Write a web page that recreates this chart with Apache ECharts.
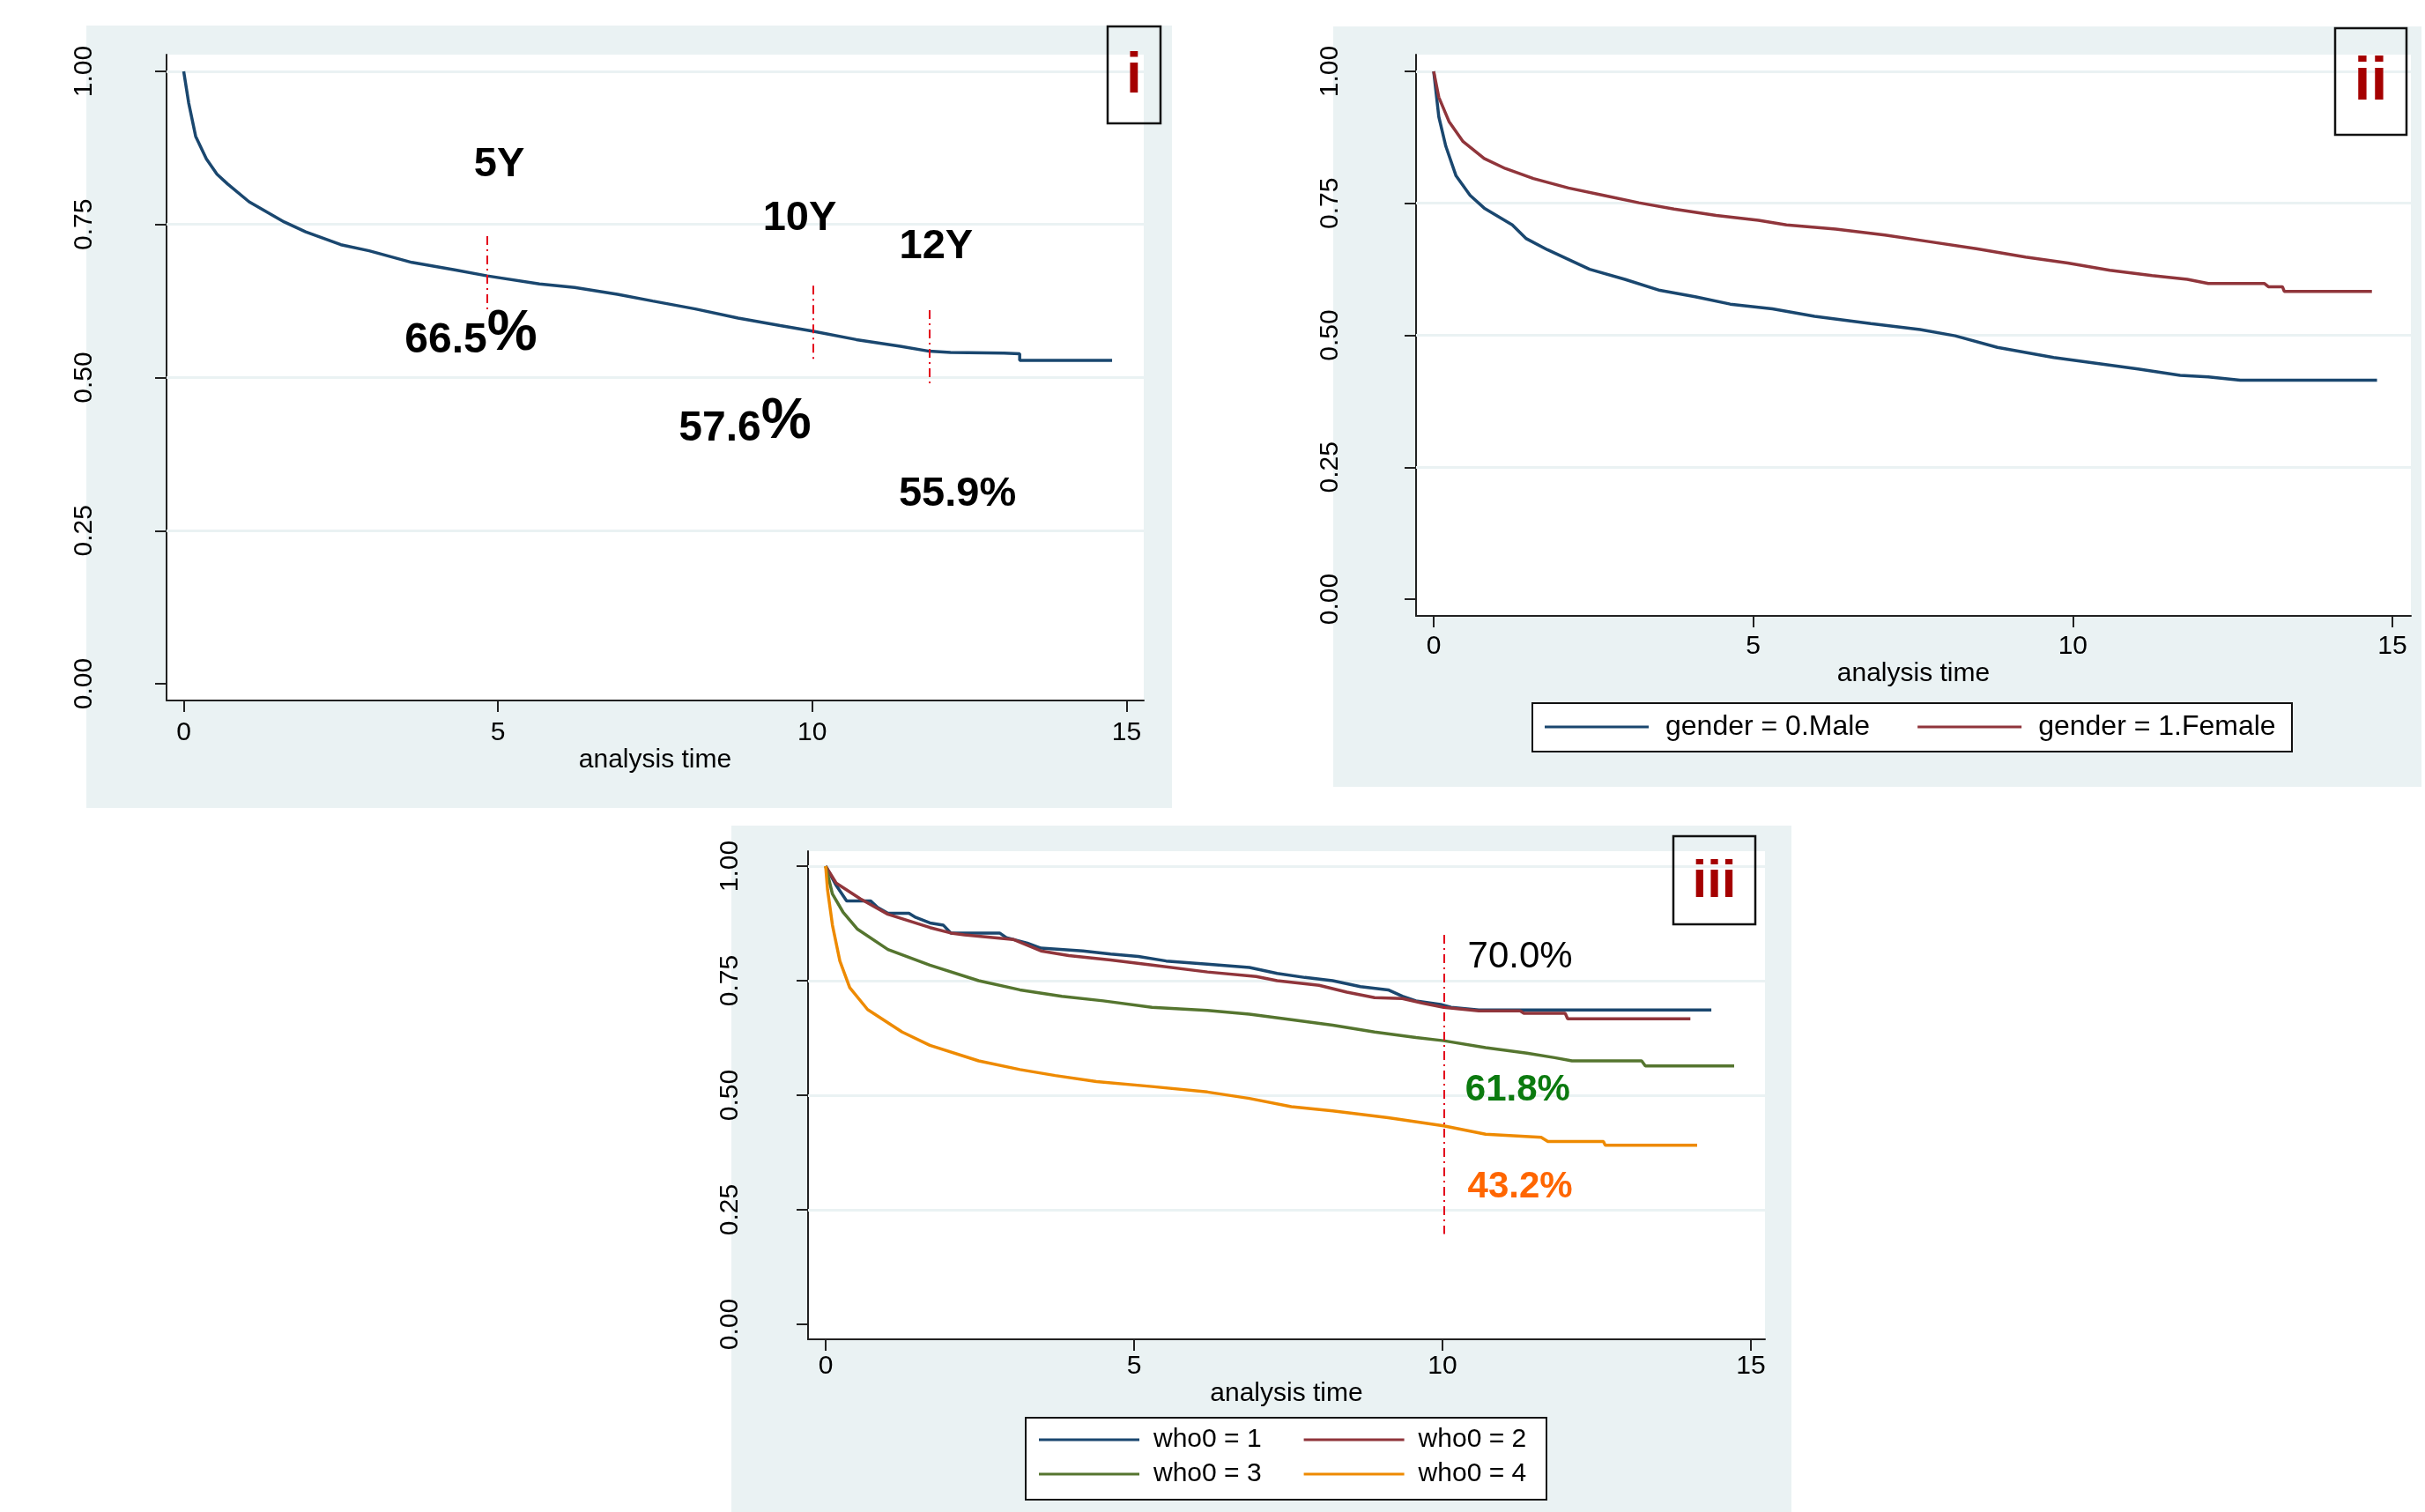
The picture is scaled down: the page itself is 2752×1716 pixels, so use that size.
<!DOCTYPE html>
<html><head><meta charset="utf-8">
<script src="https://cdn.jsdelivr.net/npm/echarts@6/dist/echarts.min.js"></script>
<style>html,body{margin:0;padding:0;background:#fff}#c{width:2752px;height:1716px}</style>
</head><body><div id="c"></div>
<script>
// ---------- data ----------
const xTicks = [0, 5, 10, 15];
const yTicks = [0, 0.25, 0.5, 0.75, 1];
const gridVals = [0.25, 0.5, 0.75, 1];
const xTitle = 'analysis time';

// panel i : overall survival
const tAll = [0,0.08,0.19,0.36,0.53,0.70,1.04,1.60,1.94,2.50,2.95,3.63,4.31,4.83,5.66,6.22,6.90,7.46,8.14,8.82,9.49,10.0,10.7,11.4,11.86,12.2,13.05,13.3,13.3,14.77];
const sAll = [1,0.948,0.894,0.857,0.832,0.816,0.787,0.754,0.738,0.717,0.707,0.688,0.676,0.666,0.653,0.647,0.636,0.625,0.612,0.597,0.585,0.576,0.562,0.551,0.543,0.541,0.540,0.539,0.528,0.528];
const markYearsI = [4.83, 10.02, 11.86];
const markTopI = [0.731, 0.650, 0.610];
const markBotI = [0.609, 0.526, 0.486];
const annoTextI = ['5Y', '10Y', '12Y', '66.5%', '57.6%', '55.9%'];
const annoTI = [5.02, 9.80, 11.97, 4.57, 8.93, 12.31];
const annoVI = [0.848, 0.760, 0.714, 0.571, 0.427, 0.309];

// panel ii : by gender
const namesII = ['gender = 0.Male', 'gender = 1.Female'];
const tMale = [0,0.08,0.19,0.35,0.57,0.79,1.23,1.45,1.78,2.44,2.99,3.54,4.09,4.64,5.30,5.96,6.84,7.61,8.16,8.82,9.70,10.36,11.02,11.68,12.12,12.62,14.76];
const sMale = [1,0.914,0.858,0.802,0.765,0.741,0.709,0.683,0.662,0.625,0.606,0.585,0.573,0.559,0.550,0.536,0.522,0.511,0.499,0.477,0.458,0.447,0.436,0.424,0.421,0.415,0.415];
const tFemale = [0,0.08,0.24,0.46,0.79,1.12,1.56,2.11,2.66,3.21,3.76,4.42,5.08,5.52,6.29,7.06,7.72,8.49,9.26,9.92,10.58,11.24,11.79,12.12,13.0,13.06,13.28,13.31,14.68];
const sFemale = [1,0.951,0.905,0.867,0.835,0.816,0.797,0.779,0.765,0.751,0.739,0.727,0.718,0.709,0.701,0.690,0.678,0.664,0.648,0.637,0.623,0.613,0.606,0.598,0.598,0.592,0.592,0.583,0.583];

// panel iii : by WHO stage
const namesIII = ['who0 = 1', 'who0 = 2', 'who0 = 3', 'who0 = 4'];
const tWho1 = [0,0.17,0.34,0.73,0.84,1.01,1.35,1.46,1.69,1.91,2.03,2.82,2.93,3.27,3.49,4.17,4.62,5.07,5.52,6.19,6.87,7.32,7.77,8.22,8.67,9.12,9.35,9.57,9.97,10.14,10.59,14.36];
const sWho1 = [1,0.958,0.924,0.924,0.910,0.897,0.897,0.888,0.876,0.871,0.854,0.854,0.844,0.832,0.821,0.815,0.808,0.803,0.793,0.786,0.779,0.766,0.757,0.750,0.737,0.730,0.716,0.706,0.698,0.692,0.686,0.686];
const tWho2 = [0,0.17,0.56,1.01,1.69,2.03,2.25,3.04,3.49,3.94,4.62,5.29,6.19,6.98,7.32,8.00,8.45,8.90,9.35,9.68,10.02,10.59,11.26,11.32,11.99,12.03,14.02];
const sWho2 = [1,0.963,0.929,0.895,0.866,0.854,0.850,0.840,0.815,0.805,0.795,0.784,0.769,0.759,0.750,0.740,0.725,0.713,0.711,0.701,0.692,0.684,0.684,0.679,0.679,0.667,0.667];
const tWho3 = [0,0.11,0.28,0.51,1.01,1.69,2.48,3.15,3.83,4.50,5.29,6.19,6.87,7.55,8.22,8.90,9.57,10.02,10.70,11.37,11.82,12.10,13.23,13.29,14.73];
const sWho3 = [1,0.939,0.900,0.863,0.818,0.784,0.750,0.730,0.716,0.706,0.692,0.685,0.677,0.665,0.653,0.638,0.626,0.619,0.604,0.592,0.582,0.575,0.575,0.564,0.564];
const tWho4 = [0,0.03,0.11,0.23,0.39,0.68,1.24,1.69,2.48,3.15,3.72,4.39,5.29,6.19,6.87,7.55,8.22,9.12,10.02,10.70,11.60,11.71,12.61,12.64,14.13];
const sWho4 = [1,0.949,0.871,0.793,0.735,0.687,0.638,0.609,0.575,0.556,0.543,0.530,0.519,0.507,0.493,0.475,0.466,0.451,0.433,0.415,0.408,0.399,0.399,0.391,0.391];
const markYearsIII = [10.03];
const markTopIII = [0.850];
const markBotIII = [0.197];
const annoTextIII = ['70.0%', '61.8%', '43.2%'];
const annoTIII = [11.26, 11.22, 11.26];
const annoVIII = [0.801, 0.510, 0.299];

const panelTags = ['i', 'ii', 'iii'];

// ---------- styles / layout ----------
const FONT = "'Liberation Sans', Arial, Helvetica, sans-serif";
const NAVY = '#1A476F', MAROON = '#90353B', GREEN = '#55752F', ORANGE = '#EE8A00';
const BG = '#EAF2F3';
const panels = [
  {left:189, top:62, width:1109, height:733, xmin:-0.273, xmax:15.274, ymin:-0.0273, ymax:1.0273, ylm:78, xlm:22, gap:52},
  {left:1607, top:62, width:1129, height:637, xmin:-0.276, xmax:15.29, ymin:-0.0317, ymax:1.0317, ylm:82, xlm:20, gap:49},
  {left:917, top:966, width:1086, height:554, xmin:-0.286, xmax:15.23, ymin:-0.0327, ymax:1.0327, ylm:73, xlm:16, gap:43}
];
const bgRects = [[98,29,1232,888],[1513,30,1235,863],[830,937,1203,779]];
const tagBoxes = [[1257,30,60,110,64],[2650,32,81,121,68],[1899,949,93,100,60]];

const pairs = (ts, ss) => ts.map((t, i) => [t, ss[i]]);

const grids = panels.map(p => ({left:p.left, top:p.top, width:p.width, height:p.height, containLabel:false, show:false}));
const axisLineStyle = {color:'#222', width:2};
const xAxes = panels.map((p, i) => ({
  type:'value', gridIndex:i, min:p.xmin, max:p.xmax,
  name:xTitle, nameLocation:'middle', nameGap:p.gap,
  nameTextStyle:{fontFamily:FONT, fontSize:30, color:'#000'},
  axisLine:{show:true, onZero:false, lineStyle:axisLineStyle},
  axisTick:{show:true, inside:false, length:13, lineStyle:axisLineStyle, customValues:xTicks},
  axisLabel:{show:true, margin:p.xlm, fontFamily:FONT, fontSize:30, color:'#000', customValues:xTicks},
  splitLine:{show:false}
}));
const yAxes = panels.map((p, i) => ({
  type:'value', gridIndex:i, min:p.ymin, max:p.ymax,
  axisLine:{show:true, onZero:false, lineStyle:axisLineStyle},
  axisTick:{show:true, inside:false, length:13, lineStyle:axisLineStyle, customValues:yTicks},
  axisLabel:{show:true, rotate:90, margin:p.ylm, fontFamily:FONT, fontSize:30, color:'#000',
    customValues:yTicks, formatter:v => Number(v).toFixed(2)},
  splitLine:{show:false}
}));

const series = [];
// grid lines (below the curves)
panels.forEach((p, i) => {
  series.push({type:'line', xAxisIndex:i, yAxisIndex:i, data:[], z:1, silent:true,
    markLine:{silent:true, z:1, symbol:['none','none'], animation:false, label:{show:false},
      lineStyle:{color:BG, width:3, type:'solid'},
      data:gridVals.map(v => ({yAxis:v}))}});
});
function curve(name, idx, ts, ss, color) {
  return {type:'line', name, xAxisIndex:idx, yAxisIndex:idx, data:pairs(ts, ss), color,
    showSymbol:false, symbol:'none', lineStyle:{width:3.5, color}, z:6, silent:true};
}
series.push(curve('Survivor function', 0, tAll, sAll, NAVY));
series.push(curve(namesII[0], 1, tMale, sMale, NAVY));
series.push(curve(namesII[1], 1, tFemale, sFemale, MAROON));
series.push(curve(namesIII[0], 2, tWho1, sWho1, NAVY));
series.push(curve(namesIII[1], 2, tWho2, sWho2, MAROON));
series.push(curve(namesIII[2], 2, tWho3, sWho3, GREEN));
series.push(curve(namesIII[3], 2, tWho4, sWho4, ORANGE));

// red dash-dot markers
function redLines(idx, xs, tops, bots) {
  return {type:'line', xAxisIndex:idx, yAxisIndex:idx, data:[], z:7, silent:true,
    markLine:{silent:true, z:7, symbol:['none','none'], animation:false, label:{show:false},
      lineStyle:{color:'#E3001B', width:2, type:[10,5,2,5]},
      data:xs.map((x, k) => [{coord:[x, tops[k]]}, {coord:[x, bots[k]]}])}};
}
series.push(redLines(0, markYearsI, markTopI, markBotI));
series.push(redLines(2, markYearsIII, markTopIII, markBotIII));

// annotations
const labBase = {show:true, position:'inside', fontFamily:FONT, opacity:1, textBorderWidth:0, textShadowBlur:0};
const annoStyleI = [
  {fontSize:47, fontWeight:'bold', color:'#000'},
  {fontSize:47, fontWeight:'bold', color:'#000'},
  {fontSize:47, fontWeight:'bold', color:'#000'},
  {big:true}, {big:true},
  {fontSize:47, fontWeight:'bold', color:'#000'}
];
const annoSeriesBase = {type:'scatter', z:8, silent:true, symbol:'circle', symbolSize:0,
  itemStyle:{color:'#ffffff', opacity:1}, emphasis:{disabled:true}};
series.push(Object.assign({}, annoSeriesBase, {xAxisIndex:0, yAxisIndex:0,
  data:annoTextI.map((txt, k) => {
    const st = annoStyleI[k];
    const lab = st.big
      ? Object.assign({}, labBase, {color:'#000',
         formatter:'{n|' + txt.replace('%','') + '}{p|%}',
         rich:{n:{fontSize:48, fontWeight:'bold', color:'#000', fontFamily:FONT, lineHeight:48, verticalAlign:'bottom'},
               p:{fontSize:64, fontWeight:'bold', color:'#000', fontFamily:FONT, lineHeight:64, verticalAlign:'bottom'}}})
      : Object.assign({}, labBase, {formatter:txt}, st);
    return {value:[annoTI[k], annoVI[k]], label:lab};
  })
}));
const annoStyleIII = [
  {fontSize:42, fontWeight:'normal', color:'#000'},
  {fontSize:42, fontWeight:'bold', color:'#0B7A0F'},
  {fontSize:42, fontWeight:'bold', color:'#FF6600'}
];
series.push(Object.assign({}, annoSeriesBase, {xAxisIndex:2, yAxisIndex:2,
  data:annoTextIII.map((txt, k) => ({value:[annoTIII[k], annoVIII[k]],
    label:Object.assign({}, labBase, {formatter:txt}, annoStyleIII[k])}))
}));

// graphics: backgrounds, plot regions, tag boxes, legend boxes
const graphic = [];
bgRects.forEach(r => graphic.push({type:'rect', z:-10, silent:true, shape:{x:r[0], y:r[1], width:r[2], height:r[3]}, style:{fill:BG}}));
panels.forEach(p => graphic.push({type:'rect', z:-9, silent:true, shape:{x:p.left, y:p.top, width:p.width, height:p.height}, style:{fill:'#fff'}}));
tagBoxes.forEach((b, k) => {
  graphic.push({type:'rect', z:50, silent:true, shape:{x:b[0], y:b[1], width:b[2], height:b[3]}, style:{fill:'none', stroke:'#111', lineWidth:2.5}});
  graphic.push({type:'text', z:51, silent:true, x:b[0] + b[2] / 2, y:b[1] + b[3] / 2 + 2,
    style:{text:panelTags[k], fill:'#A50000', font:'bold ' + b[4] + 'px ' + FONT, textAlign:'center', textVerticalAlign:'middle'}});
});
graphic.push({type:'rect', z:-5, silent:true, shape:{x:1739, y:798, width:862, height:55}, style:{fill:'#fff', stroke:'#111', lineWidth:2}});
graphic.push({type:'rect', z:-5, silent:true, shape:{x:1164, y:1609, width:591, height:93}, style:{fill:'#fff', stroke:'#111', lineWidth:2}});

const legendBase = {orient:'horizontal', icon:'rect', itemHeight:3, selectedMode:false, padding:0, backgroundColor:'transparent'};
const legends = [
  Object.assign({}, legendBase, {data:namesII, left:1753, top:807, itemWidth:118, itemGap:54,
    textStyle:{fontFamily:FONT, fontSize:32, color:'#000', lineHeight:36, padding:[0,0,0,14]}}),
  Object.assign({}, legendBase, {data:namesIII.slice(0,2), left:1179, top:1617, itemWidth:114, itemGap:48,
    textStyle:{fontFamily:FONT, fontSize:30, color:'#000', lineHeight:34, padding:[0,0,0,11]}}),
  Object.assign({}, legendBase, {data:namesIII.slice(2,4), left:1179, top:1656, itemWidth:114, itemGap:48,
    textStyle:{fontFamily:FONT, fontSize:30, color:'#000', lineHeight:34, padding:[0,0,0,11]}})
];

const chart = echarts.init(document.getElementById('c'), null, {renderer:'canvas'});
chart.setOption({
  backgroundColor:'#fff', animation:false,
  textStyle:{fontFamily:FONT},
  grid:grids, xAxis:xAxes, yAxis:yAxes, legend:legends, series, graphic
});
</script></body></html>
